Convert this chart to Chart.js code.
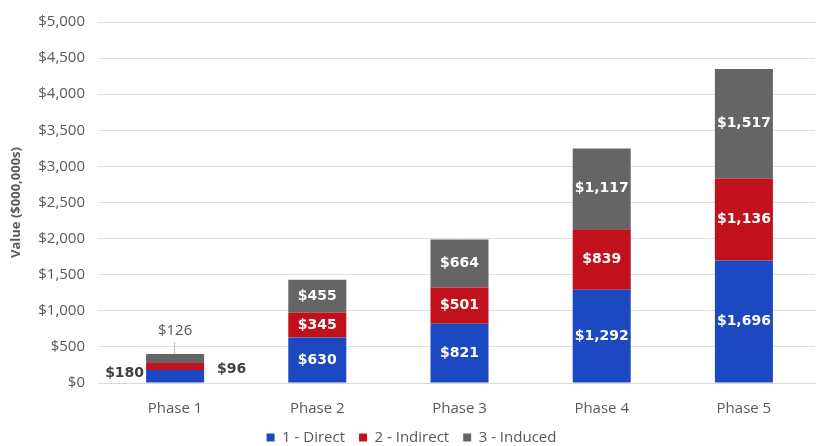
<!DOCTYPE html>
<html>
<head>
<meta charset="utf-8">
<script src="https://cdn.jsdelivr.net/npm/chart.js@4.4.1/dist/chart.umd.min.js"></script>
<style>
  html, body { margin: 0; padding: 0; background: #fff; }
  #wrap { width: 817px; height: 446px; }
</style>
</head>
<body>
<div id="wrap"><canvas id="chart"></canvas></div>
<script>
  var phases = ['Phase 1', 'Phase 2', 'Phase 3', 'Phase 4', 'Phase 5'];
  var direct = [180, 630, 821, 1292, 1696];
  var indirect = [96, 345, 501, 839, 1136];
  var induced = [126, 455, 664, 1117, 1517];
  var seriesNames = ['1 - Direct', '2 - Indirect', '3 - Induced'];
  var seriesColors = ['#1c48c2', '#c0111d', '#656565'];

  function money(v) {
    return '$' + v.toLocaleString('en-US');
  }

  var FONT = '"Open Sans", "DejaVu Sans", sans-serif';
  var LABEL_FONT = 'bold 14px "DejaVu Sans", sans-serif';

  // data labels: white inside the bars, outside for the small first bar
  var barLabels = {
    id: 'barLabels',
    afterDatasetsDraw: function (chart) {
      var ctx = chart.ctx;
      ctx.save();
      ctx.textBaseline = 'middle';
      chart.data.datasets.forEach(function (ds, di) {
        var meta = chart.getDatasetMeta(di);
        meta.data.forEach(function (bar, i) {
          var txt = money(ds.data[i]);
          var mid = (bar.y + bar.base) / 2;
          ctx.font = LABEL_FONT;
          if (i === 0) {
            ctx.fillStyle = '#404040';
            if (di === 0) {
              ctx.textAlign = 'right';
              ctx.fillText(txt, bar.x - bar.width / 2 - 2, mid - 3);
            } else if (di === 1) {
              ctx.textAlign = 'left';
              ctx.fillText(txt, bar.x + bar.width / 2 + 13, mid + 3);
            } else {
              ctx.textAlign = 'center';
              ctx.fillStyle = '#595959';
              ctx.font = '15px ' + FONT;
              ctx.fillText(txt, bar.x, bar.y - 23);
              ctx.strokeStyle = '#bfbfbf';
              ctx.lineWidth = 1;
              ctx.beginPath();
              ctx.moveTo(bar.x - 0.5, bar.y - 12);
              ctx.lineTo(bar.x - 0.5, bar.y);
              ctx.stroke();
            }
          } else {
            ctx.textAlign = 'center';
            ctx.fillStyle = '#ffffff';
            ctx.fillText(txt, bar.x, mid);
          }
        });
      });
      ctx.restore();
    }
  };

  new Chart(document.getElementById('chart'), {
    type: 'bar',
    data: {
      labels: phases,
      datasets: [
        { label: seriesNames[0], data: direct, backgroundColor: seriesColors[0] },
        { label: seriesNames[1], data: indirect, backgroundColor: seriesColors[1] },
        { label: seriesNames[2], data: induced, backgroundColor: seriesColors[2] }
      ]
    },
    options: {
      responsive: true,
      maintainAspectRatio: false,
      animation: false,
      layout: { padding: { left: 8, right: 2, top: 5, bottom: -9 } },
      datasets: { bar: { categoryPercentage: 0.8, barPercentage: 0.51 } },
      scales: {
        x: {
          stacked: true,
          grid: { display: false },
          border: { color: '#d9d9d9' },
          afterFit: function (s) { s.height = 33; },
          ticks: { color: '#595959', padding: 10, font: { family: FONT, size: 15, lineHeight: 1 } }
        },
        y: {
          stacked: true,
          min: 0,
          max: 5000,
          afterFit: function (s) { s.width = 96; },
          ticks: {
            stepSize: 500,
            padding: 13,
            color: '#595959',
            font: { family: FONT, size: 15 },
            callback: function (v) { return money(v); }
          },
          grid: { color: '#e0e0e0', drawTicks: true, tickLength: 6, tickColor: '#e0e0e0' },
          border: { display: false },
          title: {
            display: true,
            text: 'Value ($000,000s)',
            color: '#595959',
            padding: { top: 0, bottom: 0 },
            font: { family: FONT, size: 13, weight: 'bold' }
          }
        }
      },
      plugins: {
        legend: {
          position: 'bottom',
          labels: {
            boxWidth: 8,
            boxHeight: 8,
            padding: 14,
            color: '#595959',
            font: { family: FONT, size: 15, lineHeight: 1 }
          }
        },
        tooltip: { enabled: false }
      }
    },
    plugins: [barLabels]
  });
</script>
</body>
</html>
